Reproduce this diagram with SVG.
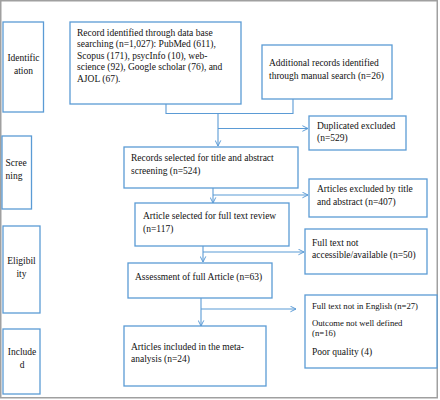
<svg xmlns="http://www.w3.org/2000/svg" width="440" height="400" viewBox="0 0 440 400">
<defs>
<style>
.box{fill:#fff;stroke:#5b9bd5;stroke-width:1.3}
.t{font-family:"Liberation Serif","Times New Roman",serif;font-size:9.5px;fill:#111}
.s{font-size:8.7px}
.c{text-anchor:middle}
.ln{fill:none;stroke:#5b9bd5;stroke-width:1.1}
</style>
<marker id="ah" viewBox="0 0 10 10" refX="9" refY="5" markerWidth="7" markerHeight="7" markerUnits="userSpaceOnUse" orient="auto">
<path d="M1,1 L9,5 L1,9" fill="none" stroke="#5b9bd5" stroke-width="1.4"/>
</marker>
</defs>
<rect x="0" y="0" width="440" height="400" fill="#fff"/>
<rect x="0.75" y="0.75" width="436.5" height="397" fill="none" stroke="#a0a0a0" stroke-width="1.5"/>

<g id="identification"><rect class="box" x="3" y="22" width="40.5" height="90"/>
<text class="t c" x="23.5" y="61">Identific</text><text class="t c" x="23.5" y="73.5">ation</text></g>
<g id="screening"><rect class="box" x="2" y="136" width="29.5" height="73"/>
<text class="t" x="5.5" y="166">Scree</text><text class="t" x="5.5" y="178.5">ning</text></g>
<g id="eligibility"><rect class="box" x="3" y="226" width="37" height="87"/>
<text class="t c" x="21.5" y="263.5">Eligibil</text><text class="t c" x="21.5" y="277">ity</text></g>
<g id="included"><rect class="box" x="3" y="329" width="37" height="65"/>
<text class="t c" x="22" y="355">Include</text><text class="t c" x="22" y="368">d</text></g>

<g id="connectors">
<path class="ln" d="M166,104 V113.5 H293 V99"/>
<path class="ln" d="M218,113.5 V146" marker-end="url(#ah)"/>
<path class="ln" d="M218,128.5 H308" marker-end="url(#ah)"/>
<path class="ln" d="M213,188 V203" marker-end="url(#ah)"/>
<path class="ln" d="M213,195 H308" marker-end="url(#ah)"/>
<path class="ln" d="M203,246 V262" marker-end="url(#ah)"/>
<path class="ln" d="M203,252 H304" marker-end="url(#ah)"/>
<path class="ln" d="M201,298 V326" marker-end="url(#ah)"/>
<path class="ln" d="M201,309 H296" marker-end="url(#ah)"/>
</g>

<g id="records-db"><rect class="box" x="70" y="22" width="171" height="82"/>
<text class="t" x="77" y="35.5">Record identified through data base</text>
<text class="t" x="77" y="47">searching (n=1,027): PubMed (611),</text>
<text class="t" x="77" y="58.5">Scopus (171), psycInfo (10), web-</text>
<text class="t" x="77" y="70">science (92), Google scholar (76), and</text>
<text class="t" x="77" y="81.5">AJOL (67).</text></g>
<g id="additional"><rect class="box" x="262" y="45" width="130" height="54"/>
<text class="t" x="269" y="66">Additional records identified</text>
<text class="t" x="269" y="78.5">through manual search (n=26)</text></g>
<g id="duplicated"><rect class="box" x="309" y="116" width="97" height="34"/>
<text class="t" x="317" y="129">Duplicated excluded</text>
<text class="t" x="317" y="140.5">(n=529)</text></g>
<g id="records-selected"><rect class="box" x="124" y="147" width="174" height="41"/>
<text class="t" x="131" y="161">Records selected for title and abstract</text>
<text class="t" x="131" y="173.5">screening (n=524)</text></g>
<g id="excluded-title"><rect class="box" x="309" y="179" width="118" height="38"/>
<text class="t" x="317" y="192">Articles excluded by title</text>
<text class="t" x="317" y="204.5">and abstract (n=407)</text></g>
<g id="fulltext-review"><rect class="box" x="135" y="203" width="154" height="43"/>
<text class="t" x="143" y="218.5">Article selected for full text review</text>
<text class="t" x="143" y="232">(n=117)</text></g>
<g id="not-accessible"><rect class="box" x="305" y="229" width="122" height="45"/>
<text class="t" x="312" y="245.5">Full text not</text>
<text class="t" x="312" y="258">accessible/available (n=50)</text></g>
<g id="assessment"><rect class="box" x="128" y="263" width="144" height="35"/>
<text class="t" x="135" y="280">Assessment of full Article (n=63)</text></g>
<g id="excluded-full"><rect class="box" x="305" y="295" width="132" height="73"/>
<text class="t s" x="312" y="309">Full text not in English (n=27)</text>
<text class="t s" x="312" y="325.5">Outcome not well defined</text>
<text class="t s" x="312" y="336">(n=16)</text>
<text class="t" x="312" y="354.5">Poor quality (4)</text></g>
<g id="included-meta"><rect class="box" x="124" y="326" width="142" height="60"/>
<text class="t" x="131" y="349.5">Articles included in the meta-</text>
<text class="t" x="131" y="362">analysis (n=24)</text></g>
</svg>
